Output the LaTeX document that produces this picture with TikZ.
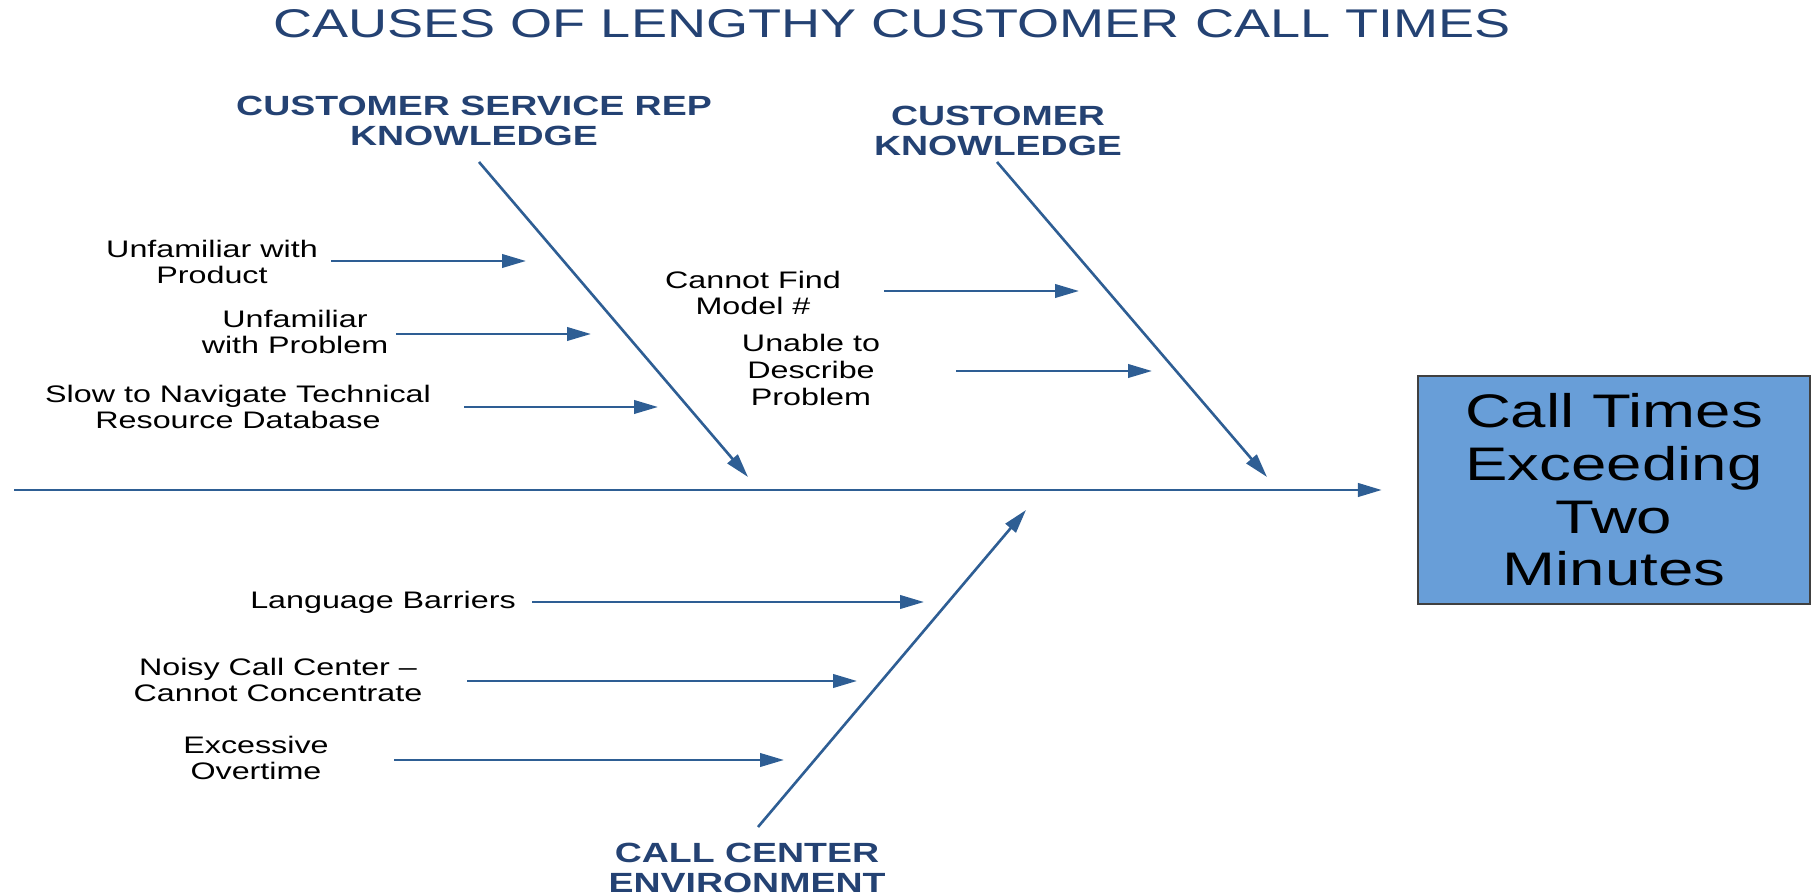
\documentclass[tikz,border=0pt]{standalone}
\usepackage{fontspec}
\setmainfont{Liberation Sans}
\usepackage{tikz}
\usetikzlibrary{arrows.meta, positioning}
\usepackage{xcolor}
\definecolor{bonecol}{RGB}{46,94,148}
\definecolor{headcol}{RGB}{36,66,115}
\definecolor{boxfill}{RGB}{104,158,216}

\tikzset{
  bone/.style={draw=bonecol, line width=0.75pt, -{Triangle[length=6.8pt, width=3.8pt]}},
  cause/.style={font=\fontsize{6.8}{7.55}\selectfont, align=center, xscale=1.35, inner sep=0pt},
  category/.style={font=\fontsize{7.9}{8.5}\selectfont\bfseries, text=headcol, align=center, xscale=1.35, inner sep=0pt},
  effectbox/.style={draw=black!75, line width=0.6pt, fill=boxfill, align=center, xscale=1.35,
    minimum width=2.9cm, minimum height=2.28cm, font=\fontsize{13.4}{15}\selectfont}
}

\begin{document}
\begin{tikzpicture}
  \useasboundingbox (0,0) rectangle (18.11,-8.96);

  % title and effect
  \node[font=\fontsize{11.4}{13}\selectfont, text=headcol, xscale=1.35, inner sep=0pt] (title)
    at (8.92,-0.24) {CAUSES OF LENGTHY CUSTOMER CALL TIMES};
  \node[effectbox] (effect) at (16.14,-4.90) {Call Times\\Exceeding\\Two\\Minutes};

  % spine
  \coordinate (tail) at (0.14,-4.90);
  \draw[bone, line width=0.85pt, shorten >=0.35cm] (tail) -- (effect.west);

  % categories
  \node[category] (csr) at (4.74,-1.21) {CUSTOMER SERVICE REP\\KNOWLEDGE};
  \node[category] (cust) at (9.98,-1.31) {CUSTOMER\\KNOWLEDGE};
  \node[category] (env) at (7.47,-8.68) {CALL CENTER\\ENVIRONMENT};

  \coordinate (csrTop) at (4.79,-1.62);
  \coordinate (csrTip) at (7.48,-4.77);
  \coordinate (custTop) at (9.97,-1.62);
  \coordinate (custTip) at (12.67,-4.77);
  \coordinate (envFoot) at (7.58,-8.27);
  \coordinate (envTip) at (10.26,-5.10);
  \draw[bone] (csrTop) -- (csrTip);
  \draw[bone] (custTop) -- (custTip);
  \draw[bone] (envFoot) -- (envTip);

  % causes
  \foreach \n/\x/\y/\sx/\ex/\ay/\txt in {
      1/2.12/-2.62/3.31/5.26/-2.61/{Unfamiliar with\\Product},
      2/2.95/-3.32/3.96/5.91/-3.34/{Unfamiliar\\with Problem},
      3/2.38/-4.07/4.64/6.58/-4.07/{Slow to Navigate Technical\\Resource Database},
      4/7.53/-2.93/8.84/10.79/-2.91/{Cannot Find\\Model \#},
      5/8.11/-3.70/9.56/11.52/-3.71/{Unable to\\Describe\\Problem},
      6/3.83/-6.02/5.32/9.24/-6.02/{Language Barriers},
      7/2.78/-6.80/4.67/8.57/-6.81/{Noisy Call Center –\\Cannot Concentrate},
      8/2.56/-7.58/3.94/7.84/-7.60/{Excessive\\Overtime}}{
    \node[cause] (c\n) at (\x,\y) {\txt};
    \coordinate (s\n) at (\sx,\ay);
    \coordinate (e\n) at (\ex,\ay);
    \draw[bone] (s\n) -- (e\n);
  }
\end{tikzpicture}
\end{document}
